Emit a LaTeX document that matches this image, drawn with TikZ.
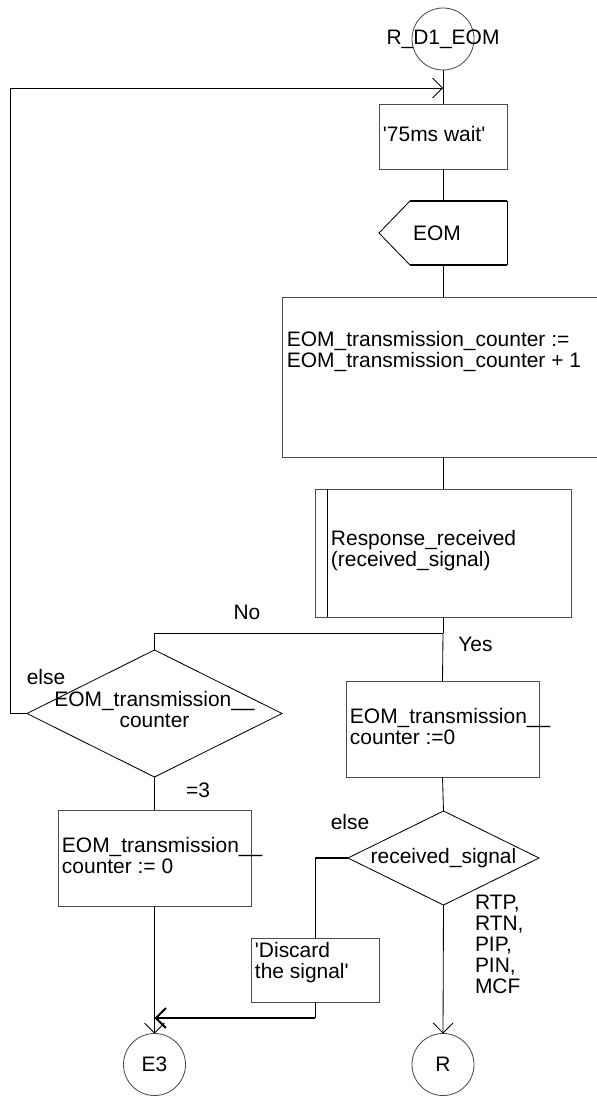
\documentclass[tikz,border=0pt]{standalone}
\usepackage{fontspec}
\setmainfont{Liberation Sans}
\usepackage{tikz}
\usetikzlibrary{arrows.meta, shapes.geometric, calc}

\begin{document}
\begin{tikzpicture}[
    x=0.025cm, y=-0.025cm,
    >={Straight Barb[angle=90:10pt]},
    line width=0.6pt,
    font=\fontsize{14.9}{15}\selectfont,
    every node/.style={inner sep=0pt, outer sep=0pt},
    task/.style={draw=black!70, rectangle},
    decision/.style={draw, diamond},
    conn/.style={draw=black!70, circle, minimum size=1.55cm},
    txt/.style={anchor=west, align=left, xshift=0.1cm, yshift=0.06cm},
    heavy/.style={line width=1.4pt}
  ]

  \path[use as bounding box, clip] (0,0) rectangle (597,1097);

  % Main column
  \node[conn, label={center:R\_D1\_EOM}] (start) at (443,39) {};
  \node[task, minimum width=3.2cm, minimum height=1.625cm,
        label={[txt]west:\textquotesingle 75ms wait\textquotesingle}] (wait) at (443,136.5) {};
  \node[minimum width=3.2cm, minimum height=1.6cm,
        label={[xshift=-0.15cm]center:EOM}] (eom) at (443,233) {};
  \node[task, minimum width=8.05cm, minimum height=4cm,
        label={[anchor=north west, align=left, xshift=0.125cm, yshift=-0.85cm]north west:EOM\_transmission\_counter :=\\EOM\_transmission\_counter + 1}] (inc) at (443,377) {};
  \node[task, minimum width=6.4cm, minimum height=3.2cm,
        label={[txt, xshift=0.3cm]west:Response\_received\\(received\_signal)}] (resp) at (443,553) {};
  \coordinate (split) at (443,633);
  \node[task, minimum width=4.825cm, minimum height=2.4cm,
        label={[txt]west:EOM\_transmission\_\_\\counter :=0}] (zero) at (442.5,729) {};
  \node[decision, minimum width=4.775cm, minimum height=2.35cm,
        label={center:received\_signal}] (rs) at (443.5,858) {};
  \node[conn, label={center:R}] (rcon) at (443,1064.5) {};

  % Left column
  \node[decision, minimum width=6.375cm, minimum height=3.175cm,
        label={[align=center, yshift=0.09cm]center:EOM\_transmission\_\_\\counter}] (cnt) at (154.5,713.5) {};
  \node[task, minimum width=4.825cm, minimum height=2.4cm,
        label={[txt]west:EOM\_transmission\_\_\\counter := 0}] (reset) at (154.5,858) {};
  \node[task, minimum width=3.2cm, minimum height=1.6cm,
        label={[txt, yshift=0.12cm]west:\textquotesingle Discard\\the signal\textquotesingle}] (disc) at (315,970) {};
  \node[conn, label={center:E3}] (e3) at (154.5,1064.5) {};
  \coordinate (join) at (154.5,1018);
  \coordinate (back) at (10,88);

  % Input symbol
  \draw[heavy] ($(eom.north west)+(31,0)$) -- (eom.north east);
  \draw[heavy] ($(eom.south west)+(31,0)$) -- (eom.south east);
  \draw ($(eom.north west)+(31,0)$) -- (eom.west) -- ($(eom.south west)+(31,0)$);
  \draw (eom.north east) -- (eom.south east);

  % Procedure call bar
  \draw ($(resp.north west)+(12,0)$) -- ($(resp.south west)+(12,0)$);

  % Flow lines
  \draw (start.south) -- (wait.north);
  \draw (wait.south) -- (eom.north);
  \draw (eom.south) -- (inc.north);
  \draw (inc.south) -- (resp.north);
  \draw (resp.south) -- (split);
  \draw (split) -| (cnt.north);
  \draw (split) -- (zero.north);
  \draw (zero.south) -- (rs.north);
  \draw[->] (rs.south) -- (rcon.north);
  \draw (cnt.south) -- (reset.north);
  \draw[->] (reset.south) -- (e3.north);
  \draw[->] (cnt.west) -| (back) -- (back -| start);
  \draw[heavy] (rs.west) -- (rs.west -| disc.north);
  \draw (rs.west -| disc.north) -- (disc.north);
  \draw (disc.south) -- (disc.south |- join);
  \draw[heavy, ->] (disc.south |- join) -- (join);

  % Branch labels
  \node (no) at (247,612) {No};
  \node (yes) at (475.5,644) {Yes};
  \node (else1) at (46,677) {else};
  \node (eq3) at (198,790) {=3};
  \node (else2) at (350,822) {else};
  \node[anchor=west, align=left] (sigs) at (475,944.5) {RTP,\\RTN,\\PIP,\\PIN,\\MCF};

\end{tikzpicture}
\end{document}
